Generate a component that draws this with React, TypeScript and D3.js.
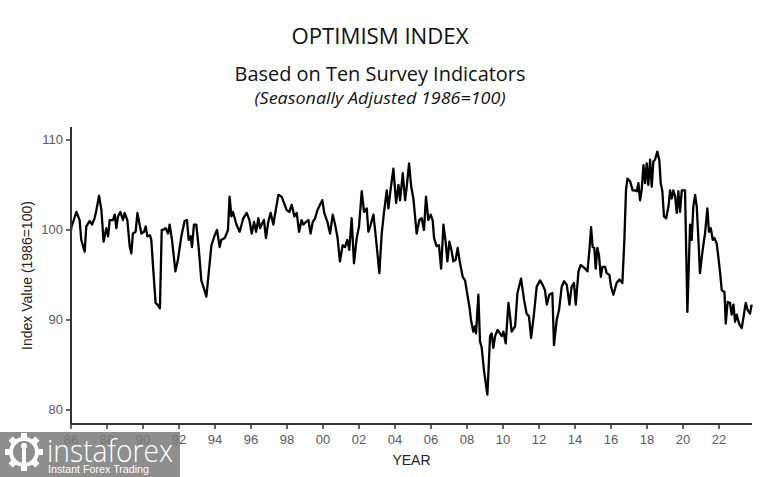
import React from "react";
import * as d3 from "d3";

const years: number[] = [
  1986.0, 1986.02, 1986.3, 1986.48, 1986.57, 1986.76, 1986.85, 1987.04, 1987.17, 1987.31, 1987.41, 1987.56, 1987.69, 1987.81, 1987.96,
  1988.06, 1988.15, 1988.33, 1988.43, 1988.52, 1988.61, 1988.74, 1988.89, 1988.98, 1989.13, 1989.26, 1989.35, 1989.44, 1989.59, 1989.69, 1989.81, 1989.91,
  1990.06, 1990.15, 1990.24, 1990.39, 1990.46, 1990.57, 1990.7, 1990.8, 1990.94, 1991.04, 1991.11, 1991.26, 1991.39, 1991.48, 1991.61, 1991.8, 1991.94,
  1992.13, 1992.31, 1992.44, 1992.54, 1992.65, 1992.72, 1992.83, 1992.96, 1993.09, 1993.24, 1993.43, 1993.52, 1993.61, 1993.8, 1993.98,
  1994.11, 1994.26, 1994.35, 1994.54, 1994.72, 1994.81, 1994.91, 1995.0, 1995.19, 1995.37, 1995.57, 1995.76, 1995.91,
  1996.04, 1996.17, 1996.28, 1996.41, 1996.5, 1996.59, 1996.72, 1996.83, 1996.96, 1997.09, 1997.24, 1997.39, 1997.52, 1997.7, 1997.83, 1997.98,
  1998.13, 1998.26, 1998.41, 1998.54, 1998.67, 1998.81, 1998.91, 1999.06, 1999.19, 1999.31, 1999.43, 1999.56, 1999.69, 1999.83, 1999.96,
  2000.07, 2000.24, 2000.39, 2000.54, 2000.67, 2000.81, 2000.94, 2001.09, 2001.22, 2001.35, 2001.46, 2001.59, 2001.72, 2001.87, 2002.0,
  2002.15, 2002.28, 2002.43, 2002.52, 2002.65, 2002.8, 2002.94, 2003.13, 2003.26, 2003.39, 2003.54, 2003.63, 2003.76, 2003.91,
  2004.06, 2004.19, 2004.28, 2004.43, 2004.56, 2004.65, 2004.78, 2004.9, 2005.02, 2005.2, 2005.35, 2005.48, 2005.61, 2005.72, 2005.85, 2005.98,
  2006.09, 2006.17, 2006.31, 2006.44, 2006.56, 2006.69, 2006.81, 2006.91, 2007.02, 2007.15, 2007.24, 2007.37, 2007.48, 2007.61, 2007.76, 2007.89,
  2008.02, 2008.13, 2008.22, 2008.35, 2008.44, 2008.5, 2008.63, 2008.72, 2008.81, 2008.94, 2009.13, 2009.28, 2009.37, 2009.46, 2009.56, 2009.69, 2009.83, 2009.93,
  2010.02, 2010.15, 2010.3, 2010.39, 2010.48, 2010.67, 2010.8, 2011.0, 2011.17, 2011.31, 2011.44, 2011.56, 2011.72, 2011.87,
  2012.06, 2012.2, 2012.33, 2012.43, 2012.57, 2012.74, 2012.83, 2012.98, 2013.11, 2013.26, 2013.39, 2013.54, 2013.69, 2013.81, 2013.94,
  2014.04, 2014.19, 2014.31, 2014.45, 2014.56, 2014.69, 2014.8, 2014.89, 2014.98, 2015.07, 2015.15, 2015.24, 2015.33, 2015.43, 2015.52, 2015.67, 2015.76, 2015.91,
  2016.0, 2016.13, 2016.31, 2016.46, 2016.63, 2016.74, 2016.83, 2016.91, 2017.06, 2017.2, 2017.33, 2017.43, 2017.52, 2017.61, 2017.7, 2017.8, 2017.89, 2017.98,
  2018.07, 2018.17, 2018.26, 2018.35, 2018.44, 2018.57, 2018.68, 2018.76, 2018.85, 2018.94, 2019.06, 2019.19, 2019.28, 2019.37, 2019.46, 2019.56, 2019.65, 2019.74, 2019.83, 2019.93,
  2020.02, 2020.11, 2020.24, 2020.39, 2020.48, 2020.57, 2020.67, 2020.76, 2020.85, 2020.94, 2021.09, 2021.22, 2021.35, 2021.44, 2021.54, 2021.65, 2021.74, 2021.87, 2021.96,
  2022.06, 2022.15, 2022.3, 2022.37, 2022.48, 2022.61, 2022.7, 2022.8, 2022.89, 2022.98, 2023.11, 2023.26, 2023.39, 2023.48, 2023.59, 2023.72, 2023.81,
];

const values: number[] = [
  99.9, 100.3, 102.0, 101.1, 98.9, 97.6, 100.4, 101.0, 100.6, 101.3, 102.2, 103.8, 102.2, 98.7, 100.2,
  99.3, 101.1, 101.1, 101.7, 100.2, 101.5, 102.0, 101.1, 101.9, 101.1, 98.2, 97.4, 99.6, 99.8, 101.9, 100.6, 99.6,
  99.8, 100.4, 99.3, 99.4, 98.9, 95.6, 91.9, 91.7, 91.3, 100.0, 100.0, 100.2, 99.6, 100.6, 98.9, 95.4, 96.7,
  99.3, 101.0, 101.1, 98.9, 99.3, 98.1, 100.6, 100.6, 98.1, 94.4, 93.2, 92.6, 94.4, 98.3, 99.4,
  100.0, 98.1, 98.9, 99.1, 100.0, 103.7, 101.5, 102.0, 100.6, 99.8, 101.3, 101.9, 101.1,
  99.6, 100.9, 99.8, 101.3, 100.2, 100.6, 101.1, 99.1, 100.9, 101.9, 100.6, 102.4, 103.9, 103.7, 103.0, 102.2,
  102.0, 102.8, 101.5, 101.9, 99.8, 101.1, 100.6, 100.9, 101.1, 99.6, 100.9, 101.3, 102.2, 102.8, 103.3,
  101.9, 100.9, 99.6, 101.7, 100.6, 99.1, 96.5, 98.3, 98.1, 98.9, 97.8, 101.3, 96.3, 99.1, 100.4,
  104.3, 102.0, 102.4, 99.8, 100.6, 101.7, 99.1, 95.2, 99.6, 102.0, 104.4, 102.4, 104.6, 106.8,
  103.0, 105.0, 103.3, 106.3, 103.3, 104.8, 107.4, 104.8, 103.5, 99.6, 101.1, 101.3, 100.0, 103.7, 101.1, 101.7,
  101.1, 99.1, 98.2, 98.3, 95.7, 100.6, 98.7, 96.5, 98.7, 97.6, 96.5, 96.7, 98.0, 96.3, 94.8, 94.4,
  92.8, 91.5, 90.0, 88.7, 89.3, 88.5, 92.8, 87.6, 87.0, 84.4, 81.7, 88.2, 88.5, 86.9, 88.2, 88.9, 88.5, 88.2,
  88.7, 87.4, 91.9, 90.4, 88.7, 89.3, 93.0, 94.6, 92.2, 90.7, 90.4, 88.0, 90.7, 93.7,
  94.4, 93.9, 93.3, 91.7, 92.8, 93.0, 87.2, 90.0, 91.1, 93.7, 94.3, 93.9, 91.7, 93.7, 94.1,
  91.7, 95.4, 96.1, 95.9, 95.7, 95.4, 97.8, 100.3, 98.1, 98.0, 95.7, 98.0, 97.2, 94.8, 95.9, 95.9, 95.2, 95.0,
  93.7, 92.8, 94.1, 94.5, 94.1, 98.9, 104.4, 105.7, 105.4, 104.4, 104.4, 104.3, 105.2, 103.3, 104.4, 107.2, 105.2, 107.4,
  105.0, 107.8, 104.8, 107.6, 107.8, 108.7, 107.8, 105.2, 104.3, 101.5, 101.3, 102.6, 104.4, 103.5, 104.4, 103.7, 101.9, 104.3, 102.0, 104.4,
  104.4, 104.4, 90.9, 100.6, 98.9, 102.6, 103.9, 102.6, 99.1, 95.2, 97.8, 99.6, 102.4, 99.8, 100.2, 98.9, 99.1, 98.5, 97.0,
  95.2, 93.3, 93.1, 89.6, 92.0, 91.9, 90.6, 91.7, 89.8, 90.6, 89.6, 89.1, 90.7, 91.9, 91.1, 90.7, 91.7,
];

const xTickYears: number[] = [1986, 1988, 1990, 1992, 1994, 1996, 1998, 2000, 2002, 2004, 2006, 2008, 2010, 2012, 2014, 2016, 2018, 2020, 2022];
const yTicks: number[] = [80, 90, 100, 110];

const title = "OPTIMISM INDEX";
const subtitle = "Based on Ten Survey Indicators";
const note = "(Seasonally Adjusted 1986=100)";
const xLabel = "YEAR";
const yLabel = "Index Value (1986=100)";

export default function App() {
  const W = 782, H = 477;
  const left = 71, right = 752, top = 127, bottom = 424;
  const x = d3.scaleLinear().domain([1986, 2023.83]).range([left, right]);
  const y = d3.scaleLinear().domain([78.44, 111.44]).range([bottom, top]);
  const pts = years.map((yr, i) => [yr, values[i]] as [number, number]);
  const line = d3.line<[number, number]>().x(d => x(d[0])).y(d => y(d[1]));
  const axisColor = "#333";
  const tickFont = "'Liberation Sans', Arial, sans-serif";

  return (
    <svg width={W} height={H} style={{ position: "absolute", left: 0, top: 0, background: "#fff" }}>
      <rect x={0} y={0} width={W} height={H} fill="#fff" />
      <text x={380} y={44} textAnchor="middle" fontFamily="'Open Sans', sans-serif" fontSize={21} fill="#111" textLength={177} lengthAdjust="spacingAndGlyphs">{title}</text>
      <text x={380} y={81} textAnchor="middle" fontFamily="'Open Sans', sans-serif" fontSize={19.5} fill="#111" textLength={291} lengthAdjust="spacingAndGlyphs">{subtitle}</text>
      <text x={380} y={104} textAnchor="middle" fontFamily="'Open Sans', sans-serif" fontStyle="italic" fontSize={17} fill="#111" textLength={251} lengthAdjust="spacingAndGlyphs">{note}</text>

      <path d={line(pts) || ""} fill="none" stroke="#000" strokeWidth={2.3} strokeLinejoin="round" />

      <line x1={left} x2={left} y1={top} y2={bottom} stroke={axisColor} strokeWidth={2} />
      <line x1={left} x2={right} y1={bottom} y2={bottom} stroke={axisColor} strokeWidth={2} />
      {yTicks.map(t => (
        <g key={t}>
          <line x1={left - 5} x2={left} y1={y(t)} y2={y(t)} stroke={axisColor} strokeWidth={1.5} />
          <text x={left - 8} y={y(t) + 4.5} textAnchor="end" fontFamily={tickFont} fontSize={13} fill="#5a5a5a">{t}</text>
        </g>
      ))}
      {xTickYears.map(t => (
        <g key={t}>
          <line x1={x(t)} x2={x(t)} y1={bottom} y2={bottom + 5} stroke={axisColor} strokeWidth={1.5} />
          <text x={x(t)} y={bottom + 20} textAnchor="middle" fontFamily={tickFont} fontSize={13} fill="#5a5a5a">{String(t % 100).padStart(2, "0")}</text>
        </g>
      ))}
      <text x={(left + right) / 2} y={465} textAnchor="middle" fontFamily={tickFont} fontSize={14} fill="#222">{xLabel}</text>
      <text transform={`translate(32, ${(top + bottom) / 2}) rotate(-90)`} textAnchor="middle" fontFamily={tickFont} fontSize={14} fill="#222">{yLabel}</text>

      <g>
        <rect x={0} y={432} width={180} height={45} fill="#7a7a7a" opacity={0.85} />
        <g fill="#fff" stroke="none">
          <circle cx={24} cy={452} r={13} fill="none" stroke="#fff" strokeWidth={4} />
          {d3.range(8).map(i => {
            const a = (i * Math.PI) / 4;
            return <rect key={i} x={24 - 3} y={452 - 19} width={6} height={6} transform={`rotate(${(a * 180) / Math.PI}, 24, 452)`} />;
          })}
          <circle cx={24} cy={446} r={3} />
          <rect x={22} y={449} width={4} height={14} />
        </g>
        <text x={47} y={462} fontFamily="'Open Sans', sans-serif" fontWeight={300} fontSize={31} fill="#fff" textLength={126} lengthAdjust="spacingAndGlyphs">instaforex</text>
        <text x={48} y={473} fontFamily="'Liberation Sans', Arial, sans-serif" fontSize={11} fill="#fff" textLength={101} lengthAdjust="spacingAndGlyphs">Instant Forex Trading</text>
      </g>
    </svg>
  );
}
